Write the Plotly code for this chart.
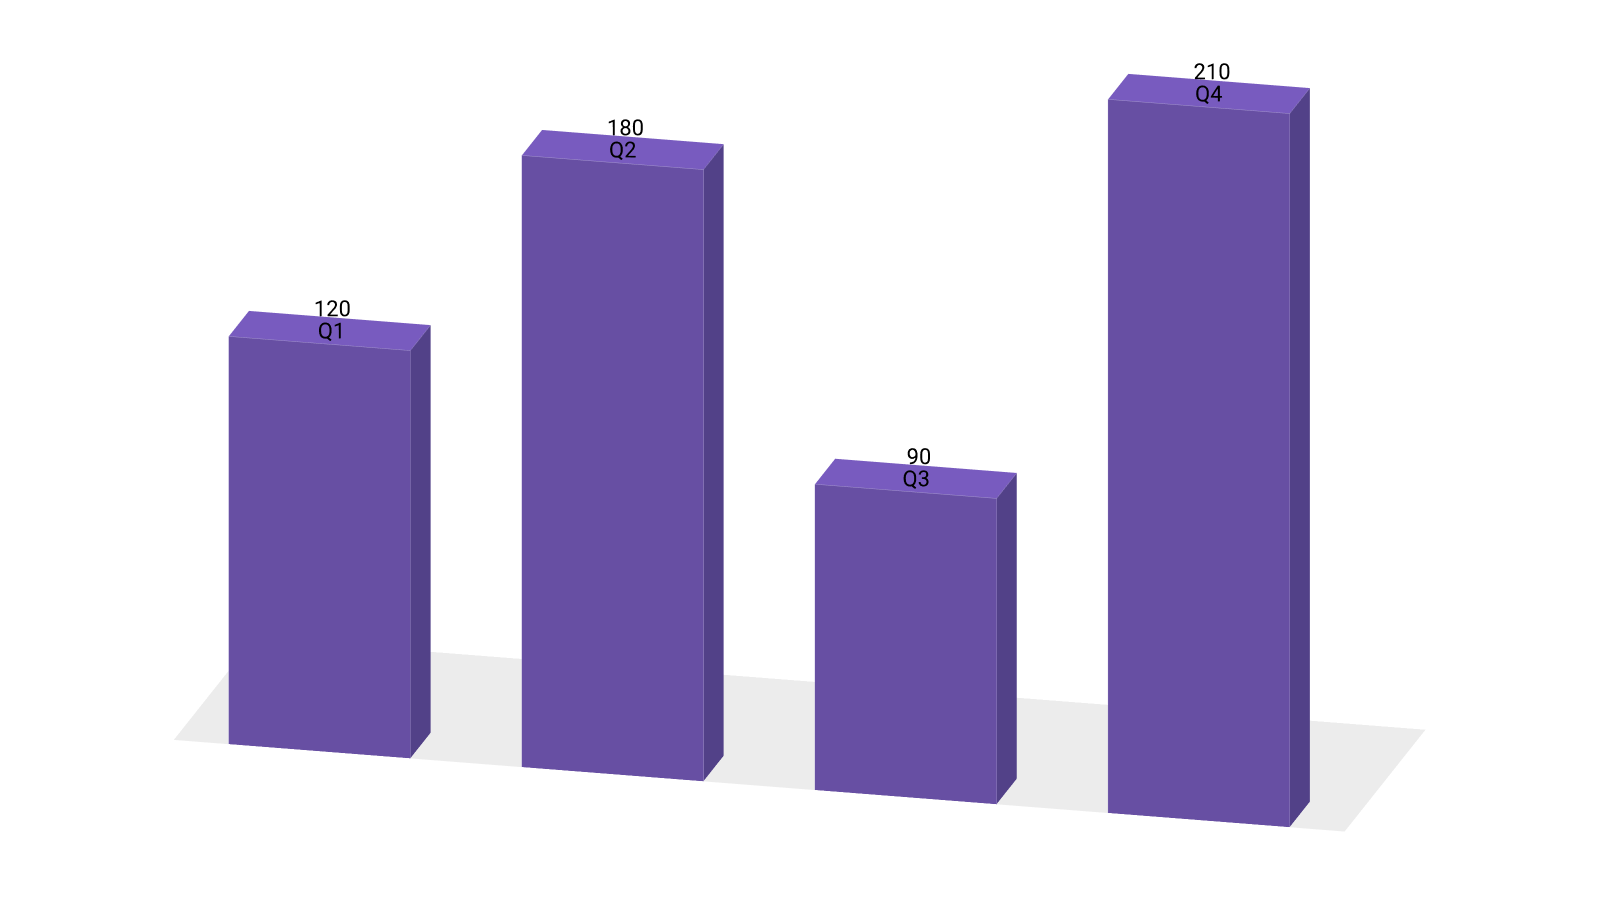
import math
import plotly.graph_objects as go

quarters = ['Q1', 'Q2', 'Q3', 'Q4']
values = [120, 180, 90, 210]

bar_step = 1.614
floor_margin = 0.303
floor_depth = 4
y_front = -1  # room in front of the bars for the labels
z_top = 235
front_color = '#674fa3'
top_color = '#785bbf'
side_color = '#524188'
floor_color = '#ececec'
seam_color = '#a596cf'

az = math.radians(14.0)
el = math.radians(18.3)
r = 2
# ortho view: aspectratio sets the zoom, eye only the direction
zoom = 2.67
aspect = dict(x=zoom, y=0.277 * zoom * 5 / 4, z=0.697 * zoom)
center = dict(x=0.019, y=0.0925, z=-0.2887)
view_dir = (math.sin(az) * math.cos(el), -math.cos(az) * math.cos(el), math.sin(el))


def box_mesh(x0, x1, y0, y1, z1):
    # front, right side and top faces only, the rest is never seen
    xs = [x0, x1, x1, x0, x0, x1, x1, x0]
    ys = [y0, y0, y1, y1, y0, y0, y1, y1]
    zs = [0, 0, 0, 0, z1, z1, z1, z1]
    i = [0, 0, 1, 1, 4, 4]
    j = [1, 5, 2, 6, 5, 6]
    k = [5, 4, 6, 5, 6, 7]
    colors = [front_color, front_color, side_color, side_color, top_color, top_color]
    return go.Mesh3d(x=xs, y=ys, z=zs, i=i, j=j, k=k, facecolor=colors,
                     flatshading=True, hoverinfo='skip', showscale=False,
                     lighting=dict(ambient=1, diffuse=0, specular=0, roughness=1, fresnel=0))


fig = go.Figure()

floor_w = 2 * floor_margin + bar_step * (len(values) - 1) + 1
fig.add_trace(go.Mesh3d(x=[0, floor_w, floor_w, 0], y=[0, 0, floor_depth, floor_depth],
                        z=[0, 0, 0, 0], i=[0, 0], j=[1, 2], k=[2, 3], color=floor_color,
                        hoverinfo='skip',
                        lighting=dict(ambient=1, diffuse=0, specular=0, roughness=1, fresnel=0)))

seam_x, seam_y, seam_z = [], [], []
for n, v in enumerate(values):
    x0 = floor_margin + n * bar_step
    x1 = x0 + 1
    fig.add_trace(box_mesh(x0, x1, 0, 1, v))
    seam_x += [x0, x0, x1, x1, None, x1, x1, None]
    seam_y += [0, 0, 0, 0, None, 0, 1, None]
    seam_z += [0, v, v, 0, None, v, v, None]

fig.add_trace(go.Scatter3d(x=seam_x, y=seam_y, z=seam_z, mode='lines',
                           line=dict(color=seam_color, width=1), hoverinfo='skip'))

# pull the labels towards the camera so the top faces don't cut them off
t = 0.15
dx = t * view_dir[0] * floor_w / aspect['x']
dy = t * view_dir[1] * (floor_depth - y_front) / aspect['y']
dz = t * view_dir[2] * z_top / aspect['z']

centers = [floor_margin + n * bar_step + 0.5 for n in range(len(values))]
fig.add_trace(go.Scatter3d(x=[c + dx for c in centers], y=[0.5 + dy] * len(values),
                           z=[v - 0.2 + dz for v in values], mode='text',
                           text=quarters, textposition='middle center',
                           textfont=dict(family='Roboto', size=22, color='black'),
                           hoverinfo='skip'))
fig.add_trace(go.Scatter3d(x=[c + 0.015 + dx for c in centers], y=[0.5 + dy] * len(values),
                           z=[v + 6.7 + dz for v in values], mode='text',
                           text=[str(v) for v in values], textposition='middle center',
                           textfont=dict(family='Roboto', size=22, color='black'),
                           hoverinfo='skip'))

hidden = dict(visible=False, showgrid=False, zeroline=False, showticklabels=False)
fig.update_layout(
    width=1600, height=904,
    showlegend=False,
    paper_bgcolor='white',
    margin=dict(l=0, r=0, t=0, b=0),
    scene=dict(
        xaxis=dict(range=[0, floor_w], **hidden),
        yaxis=dict(range=[y_front, floor_depth], **hidden),
        zaxis=dict(range=[0, z_top], **hidden),
        aspectmode='manual',
        aspectratio=aspect,
        camera=dict(
            projection=dict(type='orthographic'),
            up=dict(x=0, y=0, z=1),
            center=center,
            eye=dict(x=center['x'] + r * view_dir[0],
                     y=center['y'] + r * view_dir[1],
                     z=center['z'] + r * view_dir[2]),
        ),
    ),
)

fig.write_html("out.html")
